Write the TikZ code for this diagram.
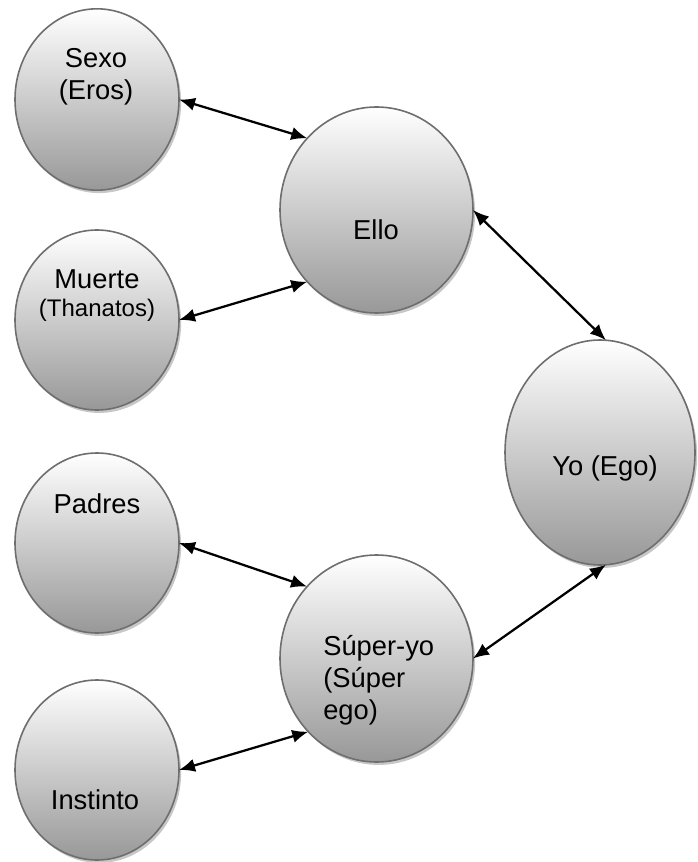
\documentclass[tikz,border=0pt]{standalone}
\usepackage{fontspec}
\setmainfont{Liberation Sans}
\usetikzlibrary{shapes.geometric,arrows.meta,shadows}
\definecolor{rim}{HTML}{6E6E6E}
\definecolor{shade}{HTML}{989898}
\begin{document}
\begin{tikzpicture}[x=0.75pt,y=-0.75pt,
  bubble/.style={ellipse,draw=rim,line width=1.2pt,inner sep=0pt,outer sep=0pt,
    top color=white,bottom color=shade,
    drop shadow={shadow xshift=1.6pt,shadow yshift=-2.2pt,opacity=1,fill=black!22}},
  lbl/.style={font=\fontsize{20.5}{24}\selectfont,inner sep=0pt,align=center},
  link/.style={line width=1.7pt,{Latex[length=12pt,width=10pt]}-{Latex[length=12pt,width=10pt]}}]
\useasboundingbox (0,0) rectangle (697,862);
% ellipses
\node[bubble,minimum width=123pt,minimum height=136pt] (sexo) at (97,99.5) {};
\node[bubble,minimum width=123pt,minimum height=135pt] (muerte) at (97,320) {};
\node[bubble,minimum width=123pt,minimum height=135pt] (padres) at (97,543) {};
\node[bubble,minimum width=123pt,minimum height=135pt] (instinto) at (97,770) {};
\node[bubble,minimum width=144.75pt,minimum height=154.5pt] (ello) at (376.5,210) {};
\node[bubble,minimum width=144.75pt,minimum height=155.25pt] (super) at (376.5,658.5) {};
\node[bubble,minimum width=142.5pt,minimum height=168.75pt] (yo) at (600,452.5) {};
% texts
\node[lbl,anchor=base] (tsexo) at (96,100) {Sexo\\(Eros)};
\node[lbl,anchor=base] (tmuerte) at (97,317) {Muerte\\[-3pt]{\fontsize{18}{21}\selectfont(Thanatos)}};
\node[lbl,anchor=base] (tello) at (376,240) {Ello};
\node[lbl,anchor=base] (tyo) at (605,475) {Yo (Ego)};
\node[lbl,anchor=base] (tpadres) at (97,513) {Padres};
\node[lbl,anchor=base] (tinstinto) at (95,809) {Instinto};
\node[lbl,anchor=base west,align=left] (tsuper) at (323,719) {Súper-yo\\(Súper\\ego)};
% connectors
\draw[link] (sexo.east) -- (ello.134);
\draw[link] (muerte.east) -- (ello.226);
\draw[link] (ello.east) -- (yo.87);
\draw[link] (padres.east) -- (super.134);
\draw[link] (instinto.east) -- (super.227);
\draw[link] (super.east) -- (yo.273);
\end{tikzpicture}
\end{document}
